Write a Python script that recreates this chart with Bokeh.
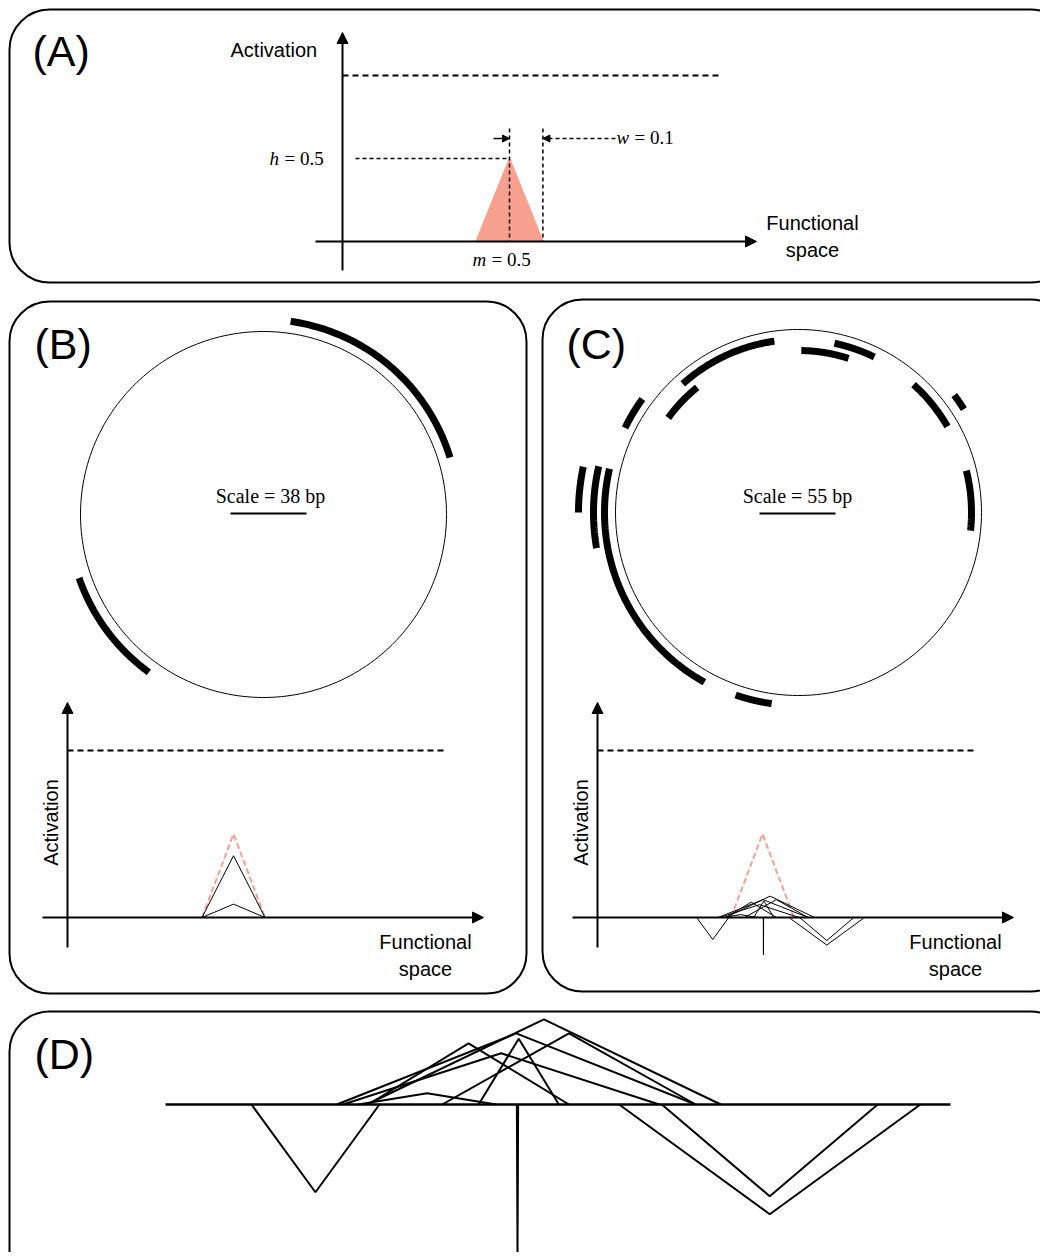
#
# Activation diagram: four panels (A)-(D) drawn in one svg figure
#
import numpy as np
from bokeh.plotting import figure
from bokeh.models import Range1d, BoxAnnotation, Arrow, NormalHead
from bokeh.core.properties import value
from bokeh.embed import file_html
from bokeh.resources import INLINE

# panel A: one triangle
m_a, w_a, h_a = 0.5, 0.1, 0.5
threshold = 1.0

# panel B: arcs on the circle (start deg, end deg, radius px) and triangles
b_arcs_start = [17, 199]
b_arcs_end = [82, 234]
b_arcs_r = [195, 195]
b_red = (0.5, 0.1, 0.5)
b_black_heights = [0.37, 0.08]

# panel C: arcs
c_arcs_start = [98, 129, 144, 168, 167, 167, 251, 72, 64, 30, 32, -6]
c_arcs_end = [132, 144, 154, 180, 190, 241, 262, 89, 78, 48, 37, 14]
c_arcs_r = [173, 161, 193, 220, 205, 194, 193, 162, 173, 172, 195, 173]

# triangles (centre, half width, height) in functional units, shared by C and D
tri_c = [0.524, 0.502, 0.544, 0.504, 0.464, 0.490, 0.431, 0.342, 0.704, 0.704, 0.503]
tri_hw = [0.141, 0.143, 0.101, 0.032, 0.080, 0.126, 0.055, 0.051, 0.120, 0.086, 0.0005]
tri_h = [0.128, 0.107, 0.107, 0.099, 0.092, 0.077, 0.017, -0.132, -0.165, -0.138, -0.223]

p = figure(width=1040, height=1252, output_backend="svg", toolbar_location=None,
           x_range=Range1d(0, 1040), y_range=Range1d(1252, 0), min_border=0)
p.axis.visible = False
p.grid.visible = False
p.outline_line_color = None

SANS = value("Liberation Sans")
SERIF = value("Liberation Serif")

# rounded panel borders
for l, r, t, b in [(9, 1070, 9, 282), (9, 526, 301, 993), (542, 1070, 299, 991), (9, 1070, 1011, 1290)]:
    p.add_layout(BoxAnnotation(left=l, right=r, top=t, bottom=b, border_radius=40,
                               fill_alpha=0, line_color="black", line_alpha=1, line_width=2))

def arrow(x0, y0, x1, y1, dash="solid", size=11, lw=2):
    p.add_layout(Arrow(x_start=x0, y_start=y0, x_end=x1, y_end=y1, line_width=lw, line_dash=dash,
                       end=NormalHead(size=size, fill_color="black", line_color="black")))

def label(x, y, txt, size="20px", font=SANS, align="left", base="middle", style="normal", angle=0):
    p.text([x], [y], text=[txt], text_font=font, text_font_size=size, text_align=align,
           text_baseline=base, text_font_style=style, angle=angle, text_color="black", text_line_height=1.2)

def math_label(x, y, var, rest, off=15):
    label(x, y, var, "19px", SERIF, style="italic")
    label(x + off, y, rest, "19px", SERIF)

# ---------- panel A
ax0, ay0, asx, asy = 342, 241, 334, 166
label(32, 50, "(A)", "43px")
arrow(342, 270, 342, 32)
arrow(315, 241, 756, 241)
p.line([342, 718], [ay0 - threshold * asy] * 2, line_dash="6 4", line_width=2, color="black")
tx = [ax0 + (m_a - w_a) * asx, ax0 + m_a * asx, ax0 + (m_a + w_a) * asx]
p.patch(tx, [ay0, ay0 - h_a * asy, ay0], fill_color="#f7a08e", line_color="#f7a08e", line_width=1.5)
p.line([355, tx[1]], [ay0 - h_a * asy] * 2, line_dash="4 3", line_width=1.5, color="black")
for xx in tx[1:]:
    p.line([xx, xx], [128, 241], line_dash="4 3", line_width=1.5, color="black")
arrow(493, 138, tx[1], 138, size=7, lw=1.5)
arrow(615, 138, tx[2], 138, dash="4 3", size=7, lw=1.5)
label(230, 49, "Activation")
label(812, 236, "Functional\nspace", align="center")
math_label(269, 158, "h", "= 0.5")
math_label(616, 137, "w", "= 0.1", 18)
math_label(472, 259, "m", "= 0.5", 19)

def ring(cx, cy, rad, a0, a1, lw, n=80):
    a = np.radians(np.linspace(a0, a1, n))
    p.line(cx + rad * np.cos(a), cy - rad * np.sin(a), line_width=lw, color="black", line_cap="butt")

def act_plot(ox, lbl_x):
    arrow(ox, 947, ox, 702)
    arrow(ox - 25, 917, ox + 416, 917)
    p.line([ox, ox + 376], [917 - threshold * 167] * 2, line_dash="6 4", line_width=2, color="black")
    label(lbl_x - 20, 822, "Activation", angle=np.pi / 2, align="center")
    label(ox + 358, 955, "Functional\nspace", align="center")

def tri(c, hw, h, x0, y0, sx, sy):
    return [x0 + (c - hw) * sx, x0 + c * sx, x0 + (c + hw) * sx], [y0, y0 - h * sy, y0]

# ---------- panel B
label(34, 343, "(B)", "43px")
ring(263, 514, 183, 0, 360, 1, 240)
for s, e, r in zip(b_arcs_start, b_arcs_end, b_arcs_r):
    ring(263, 514, r, s, e, 7)
label(270, 495, "Scale = 38 bp", "20px", SERIF, align="center")
p.line([230, 306], [513, 513], line_width=2, color="black")
act_plot(67, 70)
xs, ys = tri(*b_red, 75.5, 917, 315, 167)
p.line(xs, ys, line_dash="6 3", line_width=2, color="#f7a08e")
for hh in b_black_heights:
    xs, ys = tri(b_red[0], b_red[1], hh, 75.5, 917, 315, 167)
    p.line(xs, ys, line_width=1, color="black")

# ---------- panel C
label(566, 343, "(C)", "43px")
ring(798, 512, 183, 0, 360, 1, 240)
for s, e, r in zip(c_arcs_start, c_arcs_end, c_arcs_r):
    ring(798, 512, r, s, e, 7)
label(797, 495, "Scale = 55 bp", "20px", SERIF, align="center")
p.line([759, 835], [513, 513], line_width=2, color="black")
act_plot(597, 600)
xs, ys = tri(*b_red, 604.5, 917, 315, 167)
p.line(xs, ys, line_dash="6 3", line_width=2, color="#f7a08e")
for c, hw, h in zip(tri_c, tri_hw, tri_h):
    xs, ys = tri(c, hw, h, 604.5, 917, 315, 167)
    p.line(xs, ys, line_width=1, color="black")

# ---------- panel D (zoom of C triangles)
label(34, 1053, "(D)", "43px")
dx0 = 517 - 0.503 * 1255
p.line([165, 950], [1104, 1104], line_width=2.5, color="black")
for c, hw, h in zip(tri_c, tri_hw, tri_h):
    xs, ys = tri(c, hw, h, dx0, 1104, 1255, 665)
    p.line(xs, ys, line_width=2, color="black")

open("out.html", "w").write(file_html(p, INLINE))
